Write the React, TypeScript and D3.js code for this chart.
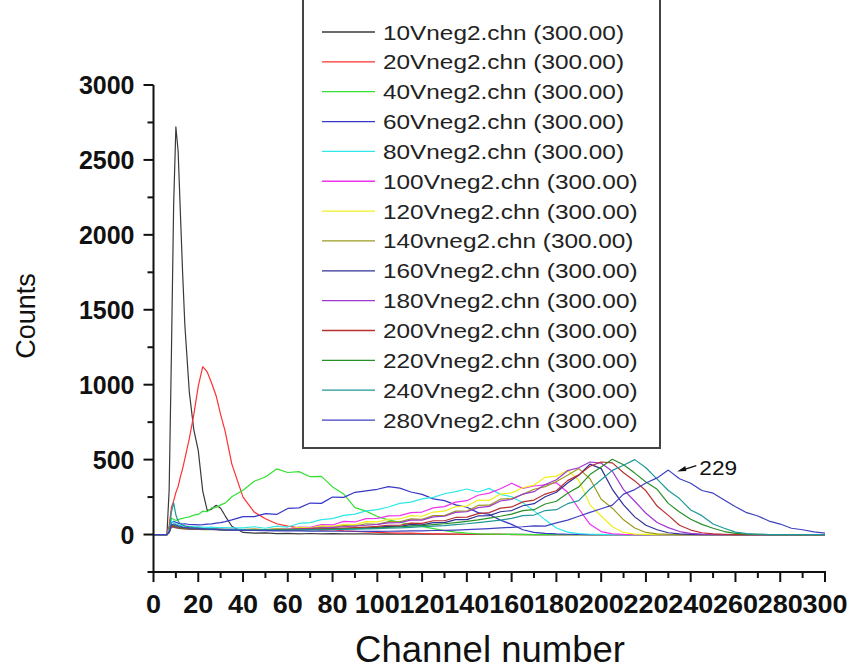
import React from "react";
import * as d3 from "d3";

// channel grid shared by all spectra (fine near the 10V peak, 5 ch steps after)
const channels = [
  0, 6, 7, 8, 9, 10, 11, 12, 13, 14, 16, 18, 20, 22, 24, 26, 28, 30, 32, 35,
  40, 45, 50, 55, 60, 65, 70, 75, 80, 85, 90, 95, 100,
  105, 110, 115, 120, 125, 130, 135, 140, 145, 150, 155, 160,
  165, 170, 175, 180, 185, 190, 195, 200, 205, 210, 215, 220,
  225, 230, 235, 240, 245, 250, 255, 260, 265, 270, 275, 280, 285, 290, 295, 300,
];

const zeros16 = [0, 0, 0, 0, 0, 0, 0, 0, 0, 0, 0, 0, 0, 0, 0, 0];

const counts10V = [
  0, 0, 300, 1200, 2200, 2720, 2560, 2150, 1750, 1400, 950, 700, 560, 290, 160, 170, 195, 175, 125, 55,
  14, 9, 11, 6, 8, 5, 7, 4, 6, 5, 4, 5, 3,
  4, 3, 4, 2, 3, 2, 2, 1, 2, 1, 1, 1,
  1, 0, 1, 0, 0, 0, 0, 0, 0, 0, 0, 0,
  ...zeros16,
];
const counts20V = [
  0, 0, 60, 180, 225, 280, 320, 385, 440, 505, 640, 800, 990, 1120, 1085, 1010, 925, 800, 690, 470,
  250, 150, 105, 72, 56, 44, 40, 30, 33, 24, 21, 17, 15,
  12, 10, 9, 7, 5, 4, 3, 2, 2, 1, 1, 0,
  0, 0, 0, 0, 0, 0, 0, 0, 0, 0, 0, 0,
  ...zeros16,
];
const counts40V = [
  0, 0, 30, 110, 100, 95, 98, 105, 108, 112, 118, 130, 134, 156, 152, 178, 180, 198, 210, 252,
  296, 356, 384, 438, 414, 420, 386, 388, 318, 270, 180, 156, 120,
  98, 82, 66, 54, 40, 26, 16, 9, 5, 3, 2, 1,
  0, 0, 0, 0, 0, 0, 0, 0, 0, 0, 0, 0,
  ...zeros16,
];
const counts60V = [
  0, 0, 20, 80, 88, 82, 76, 73, 70, 72, 67, 66, 64, 66, 69, 71, 76, 80, 86, 98,
  120, 120, 140, 134, 174, 178, 210, 208, 250, 248, 282, 292, 302,
  320, 310, 284, 268, 238, 226, 198, 182, 146, 134, 96, 68,
  32, 14, 8, 4, 2, 1, 0, 0, 0, 0, 0, 0,
  ...zeros16,
];
const counts80V = [
  0, 0, 30, 92, 80, 70, 66, 61, 58, 56, 55, 52, 51, 50, 48, 49, 47, 46, 47, 45,
  44, 52, 42, 56, 50, 74, 80, 100, 106, 128, 136, 158, 166,
  184, 208, 216, 238, 248, 272, 286, 304, 284, 308, 268, 252,
  212, 158, 98, 44, 16, 6, 2, 1, 0, 0, 0, 0,
  ...zeros16,
];
const counts100V = [
  0, 0, 20, 62, 60, 56, 52, 50, 48, 46, 44, 42, 41, 40, 38, 38, 36, 37, 35, 34,
  33, 38, 31, 40, 37, 50, 48, 66, 64, 88, 84, 106, 108,
  124, 126, 146, 150, 178, 186, 216, 226, 262, 276, 306, 342,
  308, 324, 332, 346, 282, 172, 68, 20, 5, 1, 0, 0,
  ...zeros16,
];
const counts120V = [
  0, 0, 15, 52, 50, 46, 44, 42, 40, 39, 38, 37, 36, 36, 35, 35, 34, 35, 34, 33,
  33, 38, 31, 42, 36, 48, 44, 58, 54, 68, 66, 86, 84,
  102, 104, 126, 122, 150, 156, 186, 190, 230, 228, 270, 278,
  312, 330, 382, 390, 428, 362, 198, 124, 52, 14, 3, 1,
  ...zeros16,
];
const counts140V = [
  0, 0, 15, 50, 48, 44, 42, 40, 38, 37, 36, 35, 34, 33, 33, 32, 32, 31, 30, 30,
  30, 35, 29, 37, 33, 42, 39, 50, 47, 60, 56, 72, 68,
  86, 84, 104, 102, 126, 126, 156, 156, 194, 196, 236, 240,
  268, 302, 320, 354, 396, 440, 372, 236, 176, 98, 44, 14,
  5, 1, 0, 0, 0, 0, 0, 0, 0, 0, 0, 0, 0, 0, 0, 0,
];
const counts160V = [
  0, 0, 15, 55, 52, 48, 45, 43, 41, 40, 38, 37, 36, 35, 34, 34, 33, 33, 32, 32,
  31, 31, 30, 31, 32, 33, 35, 36, 38, 40, 42, 45, 48,
  56, 54, 66, 64, 80, 80, 100, 100, 124, 126, 152, 160,
  192, 206, 252, 282, 344, 396, 470, 440, 302, 198, 118, 62,
  32, 12, 4, 1, 0, 0, 0, 0, 0, 0, 0, 0, 0, 0, 0, 0,
];
const counts180V = [
  0, 0, 15, 58, 54, 50, 47, 44, 42, 41, 39, 38, 37, 36, 35, 35, 34, 33, 33, 32,
  32, 32, 33, 34, 36, 38, 41, 44, 48, 52, 57, 62, 68,
  78, 80, 96, 96, 118, 122, 148, 152, 180, 188, 224, 234,
  270, 286, 334, 366, 426, 446, 484, 476, 422, 300, 222, 142,
  80, 46, 20, 8, 3, 1, 0, 0, 0, 0, 0, 0, 0, 0, 0, 0,
];
const counts200V = [
  0, 0, 15, 60, 56, 52, 48, 45, 43, 42, 40, 38, 37, 36, 35, 34, 34, 33, 32, 32,
  31, 31, 31, 32, 33, 34, 36, 38, 40, 43, 46, 50, 54,
  62, 62, 76, 74, 92, 92, 114, 116, 140, 146, 176, 184,
  218, 230, 270, 292, 360, 398, 456, 484, 478, 412, 358, 292,
  190, 128, 62, 30, 12, 5, 2, 0, 0, 0, 0, 0, 0, 0, 0, 0,
];
const counts220V = [
  0, 0, 15, 70, 62, 56, 52, 48, 46, 44, 42, 40, 38, 37, 36, 35, 34, 33, 33, 32,
  31, 30, 30, 30, 31, 32, 33, 34, 36, 38, 40, 42, 45,
  48, 52, 56, 60, 66, 72, 80, 88, 98, 110, 122, 136,
  160, 166, 204, 222, 276, 318, 400, 450, 502, 466, 410, 350,
  302, 208, 150, 102, 68, 42, 20, 8, 3, 1, 0, 0, 0, 0, 0, 0,
];
const counts240V = [
  0, 0, 20, 150, 212, 130, 90, 72, 64, 58, 52, 48, 45, 42, 40, 39, 37, 36, 35, 34,
  33, 32, 31, 30, 30, 30, 31, 32, 33, 34, 36, 38, 40,
  42, 45, 48, 52, 56, 60, 66, 72, 80, 88, 96, 108,
  126, 130, 160, 166, 206, 226, 304, 366, 428, 462, 500, 446,
  370, 294, 240, 164, 126, 70, 42, 16, 6, 2, 0, 0, 0, 0, 0, 0,
];
const counts280V = [
  0, 0, 15, 65, 70, 64, 58, 54, 50, 48, 45, 42, 40, 38, 36, 35, 34, 32, 31, 30,
  28, 27, 26, 25, 24, 24, 23, 23, 22, 22, 22, 21, 21,
  22, 23, 24, 25, 27, 28, 30, 33, 36, 40, 44, 48,
  52, 58, 56, 78, 96, 122, 148, 172, 196, 270, 300, 344,
  378, 430, 372, 342, 294, 276, 230, 186, 146, 124, 90, 70, 42, 32, 18, 10,
];

const seriesNames = [
  "10Vneg2.chn (300.00)", "20Vneg2.chn (300.00)", "40Vneg2.chn (300.00)",
  "60Vneg2.chn (300.00)", "80Vneg2.chn (300.00)", "100Vneg2.chn (300.00)",
  "120Vneg2.chn (300.00)", "140vneg2.chn (300.00)", "160Vneg2.chn (300.00)",
  "180Vneg2.chn (300.00)", "200Vneg2.chn (300.00)", "220Vneg2.chn (300.00)",
  "240Vneg2.chn (300.00)", "280Vneg2.chn (300.00)",
];
const seriesCounts = [
  counts10V, counts20V, counts40V, counts60V, counts80V, counts100V, counts120V,
  counts140V, counts160V, counts180V, counts200V, counts220V, counts240V, counts280V,
];
const seriesColors = [
  "#3a3a3a", "#ff3030", "#33e033", "#3838c8", "#30e8e8", "#ee33ee", "#f0f020",
  "#9a9a20", "#303098", "#a038d0", "#b83030", "#289028", "#209898", "#4040c0",
];

const xMajor = [0, 20, 40, 60, 80, 100, 120, 140, 160, 180, 200, 220, 240, 260, 280, 300];
const xMinor = [10, 30, 50, 70, 90, 110, 130, 150, 170, 190, 210, 230, 250, 270, 290];
const yMajor = [0, 500, 1000, 1500, 2000, 2500, 3000];
const yMinor = [-250, 250, 750, 1250, 1750, 2250, 2750];

const peakLabel = "229";
const peakChannel = 234;
const peakCount = 420;

const FONT = "'Liberation Sans', Arial, Helvetica, sans-serif";

export default function App() {
  const width = 849;
  const height = 671;

  const x = d3.scaleLinear().domain([0, 300]).range([153.5, 825]);
  const y = d3.scaleLinear().domain([-250, 3000]).range([572, 85]);

  const line = d3
    .line<number>()
    .x((_, i) => x(channels[i]))
    .y((d) => y(d));

  const axisY = y(-250);

  // arrow for the 229 annotation
  const tipX = x(peakChannel);
  const tipY = y(peakCount);

  return (
    <svg
      width={width}
      height={height}
      style={{ position: "absolute", left: 0, top: 0, background: "#fff" }}
      fontFamily={FONT}
    >
      {/* spectra */}
      <g fill="none" strokeWidth={1.2} strokeLinejoin="round">
        {seriesCounts.map((c, i) => (
          <path key={seriesNames[i]} d={line(c) || ""} stroke={seriesColors[i]} />
        ))}
      </g>

      {/* legend */}
      <rect x={303} y={-10} width={357} height={458} fill="#fff" stroke="#444" strokeWidth={2} />
      {seriesNames.map((name, i) => {
        const ly = 32 + i * 29.85;
        return (
          <g key={name}>
            <line x1={322} x2={375} y1={ly} y2={ly} stroke={seriesColors[i]} strokeWidth={1.3} />
            <text
              transform={`translate(383,${ly + 7.5}) scale(1.16,1)`}
              fontSize={21}
              fill="#222"
            >
              {name}
            </text>
          </g>
        );
      })}

      {/* axes */}
      <g stroke="#111" strokeWidth={2}>
        <line x1={x(0)} x2={x(0)} y1={y(3000)} y2={axisY + 1} />
        <line x1={x(0) - 1} x2={x(300) + 1} y1={axisY} y2={axisY} />
        {yMajor.map((v) => (
          <line key={"ym" + v} x1={x(0) - 10} x2={x(0)} y1={y(v)} y2={y(v)} />
        ))}
        {yMinor.map((v) => (
          <line key={"yn" + v} x1={x(0) - 6} x2={x(0)} y1={y(v)} y2={y(v)} />
        ))}
        {xMajor.map((v) => (
          <line key={"xm" + v} x1={x(v)} x2={x(v)} y1={axisY} y2={axisY + 10} />
        ))}
        {xMinor.map((v) => (
          <line key={"xn" + v} x1={x(v)} x2={x(v)} y1={axisY} y2={axisY + 6} />
        ))}
      </g>

      {/* tick labels */}
      <g fontSize={25} fontWeight="bold" fill="#111">
        {yMajor.map((v) => (
          <text key={"yl" + v} x={x(0) - 19} y={y(v)} dy="0.36em" textAnchor="end">
            {v}
          </text>
        ))}
        {xMajor.map((v) => (
          <text
            key={"xl" + v}
            transform={`translate(${x(v)},613) scale(1.08,1)`}
            textAnchor="middle"
          >
            {v}
          </text>
        ))}
      </g>

      {/* axis titles */}
      <text transform="translate(35,316) rotate(-90)" textAnchor="middle" fontSize={27} fill="#111">
        Counts
      </text>
      <text x={490} y={662} textAnchor="middle" fontSize={36.5} fill="#111">
        Channel number
      </text>

      {/* peak annotation */}
      <line x1={tipX + 19} y1={tipY - 6} x2={tipX + 5} y2={tipY - 1.5} stroke="#111" strokeWidth={1.5} />
      <polygon
        points={`${tipX},${tipY} ${tipX + 8},${tipY - 5.5} ${tipX + 9},${tipY - 0.5}`}
        fill="#111"
      />
      <text transform={`translate(${tipX + 22},${tipY + 3}) scale(1.08,1)`} fontSize={21} fill="#111">
        {peakLabel}
      </text>
    </svg>
  );
}
